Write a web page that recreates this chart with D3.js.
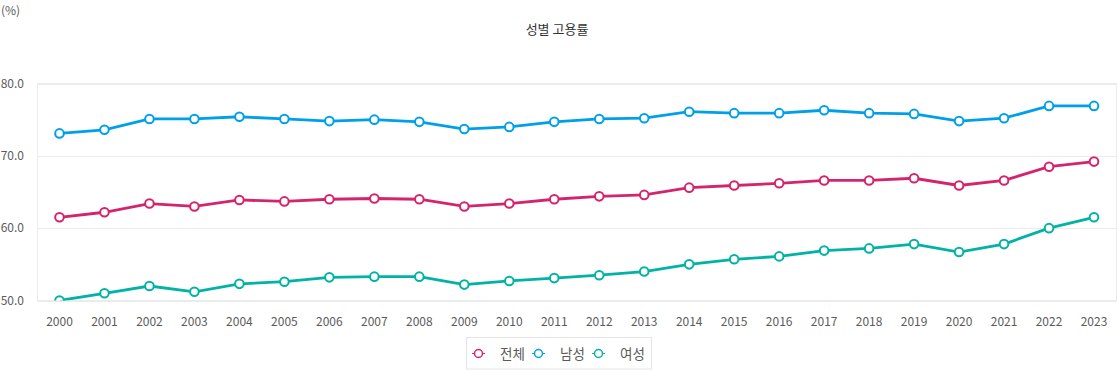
<!DOCTYPE html>
<html>
<head>
<meta charset="utf-8">
<script src="https://cdn.jsdelivr.net/npm/d3@7"></script>
<style>
  body { margin: 0; background: #fff; font-family: "Noto Sans CJK KR", "Noto Sans", sans-serif; }
  text { fill: #5a5a5a; }
</style>
</head>
<body>
<svg id="chart" width="1117" height="370"></svg>
<script>
const YEARS = ["2000","2001","2002","2003","2004","2005","2006","2007","2008","2009","2010","2011",
  "2012","2013","2014","2015","2016","2017","2018","2019","2020","2021","2022","2023"];
const TOTAL = [61.5, 62.2, 63.4, 63.0, 63.9, 63.7, 64.0, 64.1, 64.0, 63.0, 63.4, 64.0,
  64.4, 64.6, 65.6, 65.9, 66.2, 66.6, 66.6, 66.9, 65.9, 66.6, 68.5, 69.2];
const MALE = [73.1, 73.6, 75.1, 75.1, 75.4, 75.1, 74.8, 75.0, 74.7, 73.7, 74.0, 74.7,
  75.1, 75.2, 76.1, 75.9, 75.9, 76.3, 75.9, 75.8, 74.8, 75.2, 76.9, 76.9];
const FEMALE = [50.0, 51.0, 52.0, 51.2, 52.3, 52.6, 53.2, 53.3, 53.3, 52.2, 52.7, 53.1,
  53.5, 54.0, 55.0, 55.7, 56.1, 56.9, 57.2, 57.8, 56.7, 57.8, 60.0, 61.5];
const Y_TICKS = [50, 60, 70, 80];
const SERIES = [
  { name: "전체", values: TOTAL, color: "#d4246e" },
  { name: "남성", values: MALE, color: "#00a0e9" },
  { name: "여성", values: FEMALE, color: "#00b3a4" }
];

const svg = d3.select("#chart");
const margin = { left: 37, right: 0.5, top: 83.5, bottom: 69.5 };
const width = 1117, height = 370;

const x = d3.scalePoint()
  .domain(YEARS)
  .range([margin.left, width - margin.right])
  .padding(0.5);
const y = d3.scaleLinear()
  .domain([50, 80])
  .range([height - margin.bottom, margin.top]);

// 제목, 단위
svg.append("text")
  .attr("x", 557).attr("y", 34)
  .attr("text-anchor", "middle")
  .style("font-size", "13px").style("fill", "#333")
  .text("성별 고용률");
svg.append("text")
  .attr("x", 1).attr("y", 15)
  .style("font-size", "12px")
  .text("(%)");

// 격자
svg.append("g")
  .selectAll("line")
  .data(Y_TICKS)
  .join("line")
  .attr("x1", margin.left).attr("x2", width - margin.right)
  .attr("y1", d => Math.round(y(d)) + 0.5).attr("y2", d => Math.round(y(d)) + 0.5)
  .attr("stroke", "#ebebeb");
svg.append("rect")
  .attr("x", margin.left + 0.5).attr("y", margin.top)
  .attr("width", width - margin.left - margin.right - 0.5)
  .attr("height", y(50) - y(80))
  .attr("fill", "none").attr("stroke", "#ebebeb");

// y 눈금
svg.append("g")
  .selectAll("text")
  .data(Y_TICKS)
  .join("text")
  .attr("x", 24).attr("y", d => y(d) + 4)
  .attr("text-anchor", "end")
  .style("font-size", "12px")
  .text(d => d3.format(".1f")(d));

// x 눈금
svg.append("g")
  .selectAll("text")
  .data(YEARS)
  .join("text")
  .attr("x", d => x(d)).attr("y", 326)
  .attr("text-anchor", "middle")
  .style("font-size", "12px")
  .text(d => d);

svg.append("clipPath").attr("id", "plot-clip")
  .append("rect")
  .attr("x", margin.left).attr("y", margin.top - 10)
  .attr("width", width - margin.left).attr("height", y(50) - margin.top + 10);

const line = d3.line()
  .x((d, i) => x(YEARS[i]))
  .y(d => y(d));

const plot = svg.append("g").attr("clip-path", "url(#plot-clip)");

SERIES.forEach(s => {
  plot.append("path")
    .datum(s.values)
    .attr("fill", "none")
    .attr("stroke", s.color)
    .attr("stroke-width", 2.8)
    .attr("d", line);
  plot.append("g")
    .selectAll("circle")
    .data(s.values)
    .join("circle")
    .attr("cx", (d, i) => x(YEARS[i]))
    .attr("cy", d => y(d))
    .attr("r", 4.3)
    .attr("fill", "#fff")
    .attr("stroke", s.color)
    .attr("stroke-width", 2);
});

// 범례
const legend = svg.append("g");
legend.append("rect")
  .attr("x", 466.5).attr("y", 337.5)
  .attr("width", 185).attr("height", 31.5)
  .attr("fill", "#fff").attr("stroke", "#e5e5e5");

const LEGEND_X = [472, 532, 592];
const item = legend.selectAll("g.item")
  .data(SERIES)
  .join("g")
  .attr("class", "item")
  .attr("transform", (d, i) => "translate(" + LEGEND_X[i] + ",353.5)");
item.append("line")
  .attr("x1", 0).attr("x2", 13)
  .attr("stroke", d => d.color).attr("stroke-width", 1);
item.append("circle")
  .attr("cx", 6.5).attr("r", 4)
  .attr("fill", "#fff")
  .attr("stroke", d => d.color).attr("stroke-width", 1.5);
item.append("text")
  .attr("x", 28).attr("y", 5)
  .style("font-size", "13.5px")
  .text(d => d.name);
</script>
</body>
</html>
